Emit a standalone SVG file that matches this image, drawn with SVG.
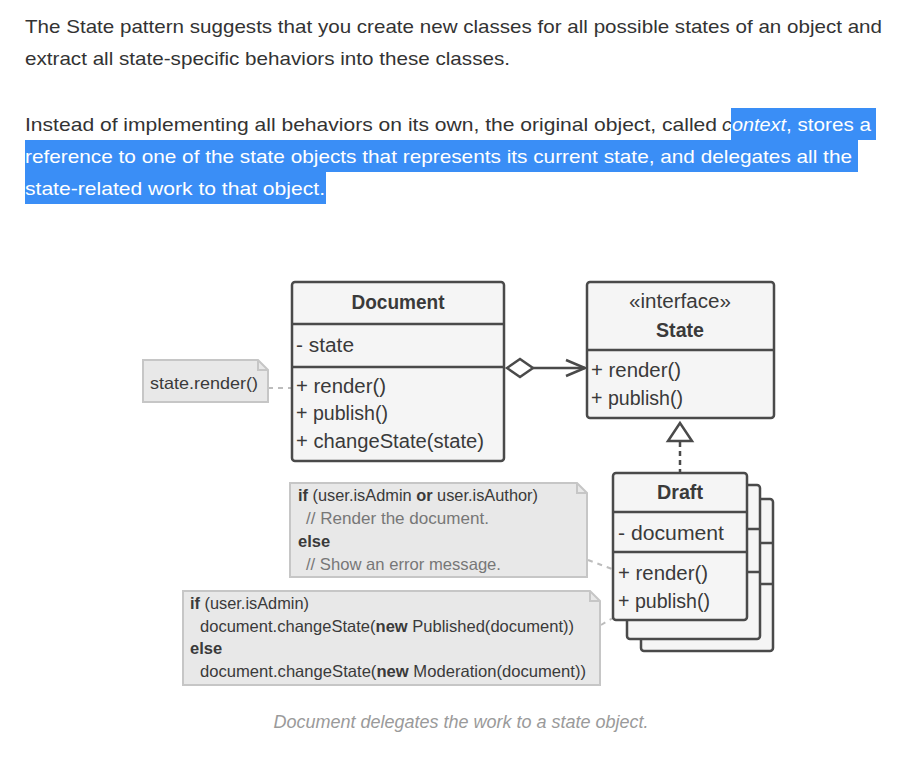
<svg xmlns="http://www.w3.org/2000/svg" width="923" height="765" viewBox="0 0 923 765">
<style>
.p{font-family:"Liberation Sans","Open Sans",sans-serif;font-size:19px;fill:#333}
.w{fill:#fff}
.it{font-style:italic}
.box{fill:#f5f5f5;stroke:#4a4a4a;stroke-width:2.5}
.div{stroke:#4a4a4a;stroke-width:2.5;fill:none}
.t{font-family:"Liberation Sans","Open Sans",sans-serif;font-size:20px;fill:#3a3a3a}
.b{font-weight:bold}
.note{fill:#e8e8e8;stroke:#c6c6c6;stroke-width:2}
.n{font-family:"Liberation Sans","Open Sans",sans-serif;font-size:16.5px;fill:#3a3a3a}
.c{fill:#777}
.dl{stroke:#bdbdbd;stroke-width:2;stroke-dasharray:5,5;fill:none}
.cap{font-family:"Liberation Sans","Open Sans",sans-serif;font-size:18px;font-style:italic;fill:#9a9a9a}
</style>
<rect width="923" height="765" fill="#fff"/>
<g id="text">
<rect x="731" y="108" width="145" height="32" fill="#3a8ef6"/>
<rect x="25" y="140" width="833" height="32" fill="#3a8ef6"/>
<rect x="25" y="172" width="301" height="32" fill="#3a8ef6"/>
<text class="p" x="25" y="33" textLength="857" lengthAdjust="spacingAndGlyphs">The State pattern suggests that you create new classes for all possible states of an object and</text>
<text class="p" x="25" y="65" textLength="485" lengthAdjust="spacingAndGlyphs">extract all state-specific behaviors into these classes.</text>
<text class="p" x="25" y="131" textLength="692" lengthAdjust="spacingAndGlyphs">Instead of implementing all behaviors on its own, the original object, called</text>
<text class="p it" x="722" y="131">c</text>
<text class="p w it" x="732" y="131" textLength="54" lengthAdjust="spacingAndGlyphs">ontext</text>
<text class="p w" x="786" y="131" textLength="85" lengthAdjust="spacingAndGlyphs">, stores a</text>
<text class="p w" x="25" y="163" textLength="827" lengthAdjust="spacingAndGlyphs">reference to one of the state objects that represents its current state, and delegates all the</text>
<text class="p w" x="25" y="195" textLength="300" lengthAdjust="spacingAndGlyphs">state-related work to that object.</text>
</g>
<g id="connectors">
<line class="dl" x1="268" y1="388" x2="291" y2="388"/>
<line class="dl" x1="588" y1="560" x2="612" y2="569"/>
<line class="dl" x1="601" y1="625" x2="613" y2="618"/>
<polygon points="507,368 520,359 533,368 520,377" fill="#fff" stroke="#4a4a4a" stroke-width="2.5"/>
<line x1="533" y1="368" x2="585" y2="368" stroke="#4a4a4a" stroke-width="2.5"/>
<polyline points="566,360 585,368 566,376" fill="none" stroke="#4a4a4a" stroke-width="2.5"/>
<line x1="680" y1="442" x2="680" y2="472" stroke="#4a4a4a" stroke-width="2.5" stroke-dasharray="5,4"/>
<polygon points="680,423 668,441 692,441" fill="#fff" stroke="#4a4a4a" stroke-width="2.5"/>
</g>
<g id="document">
<rect class="box" x="292" y="282" width="212" height="179" rx="3"/>
<line class="div" x1="292" y1="324" x2="504" y2="324"/>
<line class="div" x1="292" y1="367" x2="504" y2="367"/>
<text class="t b" x="398" y="309" text-anchor="middle" textLength="93" lengthAdjust="spacingAndGlyphs">Document</text>
<text class="t" x="296" y="352" textLength="58" lengthAdjust="spacingAndGlyphs">- state</text>
<text class="t" x="296" y="393" textLength="90" lengthAdjust="spacingAndGlyphs">+ render()</text>
<text class="t" x="296" y="420" textLength="92" lengthAdjust="spacingAndGlyphs">+ publish()</text>
<text class="t" x="296" y="448" textLength="188" lengthAdjust="spacingAndGlyphs">+ changeState(state)</text>
</g>
<g id="state">
<rect class="box" x="587" y="282" width="187" height="136" rx="3"/>
<line class="div" x1="587" y1="350" x2="774" y2="350"/>
<text class="t" x="680" y="308" text-anchor="middle" textLength="102" lengthAdjust="spacingAndGlyphs">«interface»</text>
<text class="t b" x="680" y="337" text-anchor="middle" textLength="48" lengthAdjust="spacingAndGlyphs">State</text>
<text class="t" x="591" y="377" textLength="90" lengthAdjust="spacingAndGlyphs">+ render()</text>
<text class="t" x="591" y="405" textLength="92" lengthAdjust="spacingAndGlyphs">+ publish()</text>
</g>
<g id="draft">
<rect class="box" x="641" y="499" width="132" height="152" rx="3"/>
<line class="div" x1="641" y1="543" x2="773" y2="543"/>
<line class="div" x1="641" y1="584" x2="773" y2="584"/>
<rect class="box" x="627" y="485" width="133" height="154" rx="3"/>
<line class="div" x1="627" y1="529" x2="760" y2="529"/>
<line class="div" x1="627" y1="572" x2="760" y2="572"/>
<rect class="box" x="613" y="473" width="134" height="147" rx="3"/>
<line class="div" x1="613" y1="512" x2="747" y2="512"/>
<line class="div" x1="613" y1="552" x2="747" y2="552"/>
<text class="t b" x="680" y="499" text-anchor="middle" textLength="46" lengthAdjust="spacingAndGlyphs">Draft</text>
<text class="t" x="618" y="540" textLength="106" lengthAdjust="spacingAndGlyphs">- document</text>
<text class="t" x="618" y="580" textLength="90" lengthAdjust="spacingAndGlyphs">+ render()</text>
<text class="t" x="618" y="608" textLength="92" lengthAdjust="spacingAndGlyphs">+ publish()</text>
</g>
<g id="note-render">
<path class="note" d="M143,360 H258 L268,370 V402 H143 Z"/>
<path d="M258,360 V370 H268" fill="none" stroke="#c6c6c6" stroke-width="2"/>
<text class="n" x="150" y="389" font-size="17" textLength="108" lengthAdjust="spacingAndGlyphs">state.render()</text>
</g>
<g id="note-draft-render">
<path class="note" d="M290,483 H577 L587,493 V577 H290 Z"/>
<path d="M577,483 V493 H587" fill="none" stroke="#c6c6c6" stroke-width="2"/>
<text class="n" x="298" y="501" textLength="240" lengthAdjust="spacingAndGlyphs"><tspan class="b">if</tspan> (user.isAdmin <tspan class="b">or</tspan> user.isAuthor)</text>
<text class="n c" x="306" y="524" textLength="183" lengthAdjust="spacingAndGlyphs">// Render the document.</text>
<text class="n b" x="298" y="547">else</text>
<text class="n c" x="306" y="570" textLength="195" lengthAdjust="spacingAndGlyphs">// Show an error message.</text>
</g>
<g id="note-draft-publish">
<path class="note" d="M183,591 H590 L600,601 V685 H183 Z"/>
<path d="M590,591 V601 H600" fill="none" stroke="#c6c6c6" stroke-width="2"/>
<text class="n" x="190" y="609" textLength="119" lengthAdjust="spacingAndGlyphs"><tspan class="b">if</tspan> (user.isAdmin)</text>
<text class="n" x="200" y="632" textLength="374" lengthAdjust="spacingAndGlyphs">document.changeState(<tspan class="b">new</tspan> Published(document))</text>
<text class="n b" x="190" y="654">else</text>
<text class="n" x="200" y="677" textLength="386" lengthAdjust="spacingAndGlyphs">document.changeState(<tspan class="b">new</tspan> Moderation(document))</text>
</g>
<text class="cap" x="461" y="728" text-anchor="middle">Document delegates the work to a state object.</text>
</svg>
